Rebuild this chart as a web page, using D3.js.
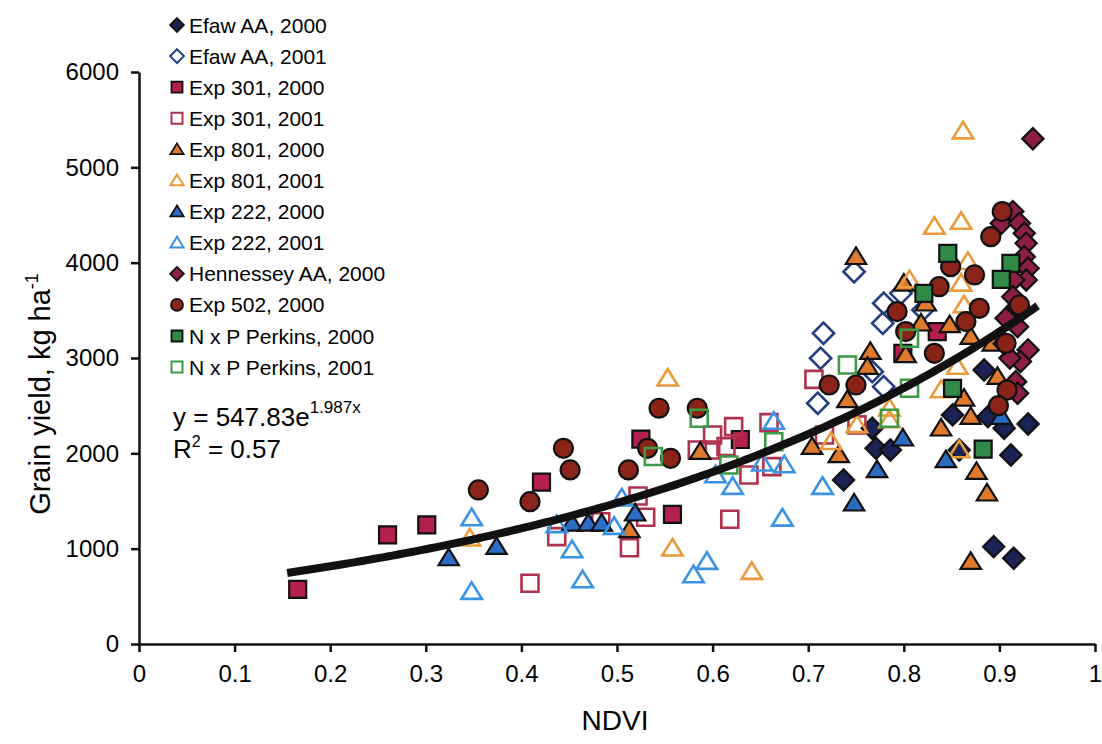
<!DOCTYPE html>
<html>
<head>
<meta charset="utf-8">
<script src="https://cdn.jsdelivr.net/npm/d3@7/dist/d3.min.js"></script>
<style>
  body { margin: 0; background: #fff; }
  svg text { font-family: "Liberation Sans", Arial, sans-serif; fill: #000; }
  .axis path, .axis line { stroke: #111; stroke-width: 2.5px; }
  .axis text { font-size: 24px; }
</style>
</head>
<body>
<div id="chart"></div>
<script>
// NDVI, grain yield (kg/ha)
var efaw2000 = [[0.737,1721],[0.767,2263],[0.771,2053],[0.786,2035],[0.851,2403],[0.858,2035],
  [0.884,2874],[0.888,2385],[0.905,2263],[0.912,1983],[0.930,2308],[0.894,1021],[0.915,899]];
var efaw2001 = [[0.710,2525],[0.713,2997],[0.716,3260],[0.748,3905],[0.767,2857],[0.779,2699],
  [0.779,3574],[0.778,3364],[0.797,3678],[0.820,3504]];
var exp301_2000 = [[0.166,574],[0.260,1144],[0.301,1249],[0.421,1697],[0.525,2148],[0.558,1360],
  [0.629,2145],[0.799,3049],[0.835,3277]];
var exp301_2001 = [[0.409,637],[0.437,1126],[0.483,1283],[0.513,1010],[0.522,1553],[0.530,1329],
  [0.584,2035],[0.598,2035],[0.600,2193],[0.622,2280],[0.614,2070],[0.618,1308],[0.638,1773],
  [0.662,1861],[0.659,2322],[0.706,2776],[0.717,2193],[0.751,2298]];
var exp801_2000 = [[0.513,1196],[0.587,2017],[0.704,2070],[0.732,1983],[0.750,4062],[0.741,2560],
  [0.765,3067],[0.762,2910],[0.800,3783],[0.818,3364],[0.802,3032],[0.823,3574],[0.848,3347],
  [0.870,3224],[0.863,2577],[0.870,2385],[0.898,2804],[0.893,3154],[0.839,2263],[0.876,1808],
  [0.887,1581],[0.870,864]];
var exp801_2001 = [[0.346,1109],[0.553,2787],[0.558,1004],[0.641,759],[0.724,2122],[0.751,2298],
  [0.806,3818],[0.832,4379],[0.860,4431],[0.862,5380],[0.867,4010],[0.860,3783],[0.863,3556],
  [0.785,2473],[0.785,2350],[0.856,2910],[0.839,2664],[0.858,2035]];
var exp222_2000 = [[0.324,902],[0.374,1021],[0.453,1266],[0.470,1266],[0.484,1266],
  [0.519,1371],[0.748,1476],[0.772,1826],[0.799,2158],[0.844,1931],[0.902,2385]];
var exp222_2001 = [[0.348,1322],[0.348,549],[0.437,1249],[0.453,986],[0.464,671],[0.497,1231],
  [0.505,1529],[0.580,724],[0.594,864],[0.603,1773],[0.621,1651],[0.652,1896],[0.664,2333],
  [0.675,1878],[0.673,1318],[0.715,1651]];
var hennessey2000 = [[0.902,4413],[0.914,4536],[0.921,4413],[0.926,4308],[0.928,4203],[0.926,4063],
  [0.930,3941],[0.928,3818],[0.915,3818],[0.914,3643],[0.919,3539],[0.907,3417],[0.919,3329],
  [0.930,3085],[0.922,2962],[0.917,2752],[0.919,2630],[0.911,3000],[0.935,5300],[0.905,3150]];
var exp502_2000 = [[0.355,1616],[0.409,1493],[0.444,2053],[0.451,1826],[0.512,1826],[0.532,2053],
  [0.544,2473],[0.556,1948],[0.584,2473],[0.722,2717],[0.750,2717],[0.793,3487],[0.802,3277],
  [0.832,3049],[0.837,3748],[0.849,3958],[0.874,3871],[0.879,3521],[0.865,3382],[0.903,4536],
  [0.891,4273],[0.921,3556],[0.907,3154],[0.908,2664],[0.899,2500]];
var nxp2000 = [[0.846,4098],[0.821,3678],[0.851,2682],[0.912,3993],[0.902,3825],[0.883,2045]];
var nxp2001 = [[0.538,1966],[0.586,2368],[0.617,1878],[0.664,2122],[0.741,2927],[0.806,3207],
  [0.806,2682],[0.785,2368]];

var seriesNames = ["Efaw AA, 2000","Efaw AA, 2001","Exp 301, 2000","Exp 301, 2001",
  "Exp 801, 2000","Exp 801, 2001","Exp 222, 2000","Exp 222, 2001",
  "Hennessey AA, 2000","Exp 502, 2000","N x P Perkins, 2000","N x P Perkins, 2001"];
var seriesData = [efaw2000, efaw2001, exp301_2000, exp301_2001, exp801_2000, exp801_2001,
  exp222_2000, exp222_2001, hennessey2000, exp502_2000, nxp2000, nxp2001];

var yTicks = [0,1000,2000,3000,4000,5000,6000];
var xTicks = [0,0.1,0.2,0.3,0.4,0.5,0.6,0.7,0.8,0.9,1];
var fitA = 547.83, fitB = 1.987, fitRange = [0.155, 0.94];

// marker style per series
var styles = [
  {shape:"diamond", fill:"#1b2355", stroke:"#111"},
  {shape:"diamond", fill:"#fff", stroke:"#233f80"},
  {shape:"square", fill:"#b51f4b", stroke:"#111"},
  {shape:"square", fill:"#fff", stroke:"#b0324f"},
  {shape:"triangle", fill:"#df7a2c", stroke:"#111"},
  {shape:"triangle", fill:"#fff", stroke:"#eb9a3c"},
  {shape:"triangle", fill:"#2b6dc4", stroke:"#111"},
  {shape:"triangle", fill:"#fff", stroke:"#3a93e4"},
  {shape:"diamond", fill:"#8d1f45", stroke:"#111"},
  {shape:"circle", fill:"#8a2419", stroke:"#111"},
  {shape:"square", fill:"#2f8a48", stroke:"#111"},
  {shape:"square", fill:"#fff", stroke:"#3d9b45"}
];

function shapePath(shape, r){
  if (shape === "square") return "M"+(-r)+","+(-r)+"h"+(2*r)+"v"+(2*r)+"h"+(-2*r)+"Z";
  if (shape === "diamond") { var d = r*1.25; return "M0,"+(-d)+"L"+d+",0L0,"+d+"L"+(-d)+",0Z"; }
  if (shape === "triangle") { var w = r*1.2; return "M0,"+(-r*1.1)+"L"+w+","+(r*0.85)+"L"+(-w)+","+(r*0.85)+"Z"; }
  return "M"+(-r)+",0a"+r+","+r+" 0 1,0 "+(2*r)+",0a"+r+","+r+" 0 1,0 "+(-2*r)+",0Z";
}

var margin = {top: 72, right: 7, bottom: 100, left: 139};
var W = 1102, H = 744;
var width = W - margin.left - margin.right;
var height = H - margin.top - margin.bottom;

var svg = d3.select("#chart").append("svg")
  .attr("width", W).attr("height", H);
var g = svg.append("g")
  .attr("transform", "translate(" + margin.left + "," + margin.top + ")");

var x = d3.scaleLinear().domain([0,1]).range([0, width]);
var y = d3.scaleLinear().domain([0,6000]).range([height, 0]);

g.append("g")
  .attr("class", "axis axis--y")
  .call(d3.axisLeft(y).tickValues(yTicks).tickSize(8).tickSizeOuter(0).tickPadding(12)
    .tickFormat(d3.format("d")));

g.append("g")
  .attr("class", "axis axis--x")
  .attr("transform", "translate(0," + height + ")")
  .call(d3.axisBottom(x).tickValues(xTicks).tickSize(8).tickSizeOuter(0).tickPadding(13)
    .tickFormat(function(d){ return d === 0 ? "0" : d === 1 ? "1" : d.toFixed(1); }));

// points
seriesData.forEach(function(pts, i){
  var st = styles[i];
  var open = st.fill === "#fff";
  g.append("g").selectAll("path")
    .data(pts).enter().append("path")
      .attr("transform", function(d){ return "translate(" + x(d[0]) + "," + y(d[1]) + ")"; })
      .attr("d", shapePath(st.shape, st.shape === "circle" ? 9.5 : 8.5))
      .attr("fill", st.fill)
      .attr("fill-opacity", open ? 0 : 1)
      .attr("stroke", st.stroke)
      .attr("stroke-width", open ? 2.6 : 2.2);
});

// exponential fit
var fitX = d3.range(fitRange[0], fitRange[1] + 0.0001, 0.005);
g.append("path")
  .datum(fitX)
  .attr("fill", "none")
  .attr("stroke", "#111")
  .attr("stroke-width", 8)
  .attr("d", d3.line().x(function(d){ return x(d); }).y(function(d){ return y(fitA*Math.exp(fitB*d)); }));

// legend
var legend = svg.append("g").attr("transform", "translate(177,25)");
seriesNames.forEach(function(name, i){
  var st = styles[i];
  var row = legend.append("g").attr("transform", "translate(0," + (i*31.1) + ")");
  row.append("path")
    .attr("d", shapePath(st.shape, st.shape === "circle" ? 6 : 5.5))
    .attr("fill", st.fill)
    .attr("stroke", st.stroke)
    .attr("stroke-width", st.fill === "#fff" ? 2 : 1.8);
  row.append("text")
    .attr("x", 12).attr("y", 7.5)
    .style("font-size", "21px")
    .text(name);
});

// equation
var eq = svg.append("text").attr("x", 173).attr("y", 426).style("font-size", "26px");
eq.append("tspan").text("y = 547.83e");
eq.append("tspan").attr("dy", -13).style("font-size", "17px").text("1.987x");
var r2 = svg.append("text").attr("x", 173).attr("y", 458).style("font-size", "26px");
r2.append("tspan").text("R");
r2.append("tspan").attr("dy", -11).style("font-size", "16px").text("2");
r2.append("tspan").attr("dy", 11).text(" = 0.57");

// axis titles
svg.append("text")
  .attr("x", margin.left + width/2 - 2).attr("y", 730)
  .attr("text-anchor", "middle").style("font-size", "28px").text("NDVI");

var yt = svg.append("text")
  .attr("transform", "translate(50," + (margin.top + 322) + ") rotate(-90)")
  .attr("text-anchor", "middle").style("font-size", "29px");
yt.append("tspan").text("Grain yield, kg ha");
yt.append("tspan").attr("dy", -12).style("font-size", "18px").text("-1");
</script>
</body>
</html>
